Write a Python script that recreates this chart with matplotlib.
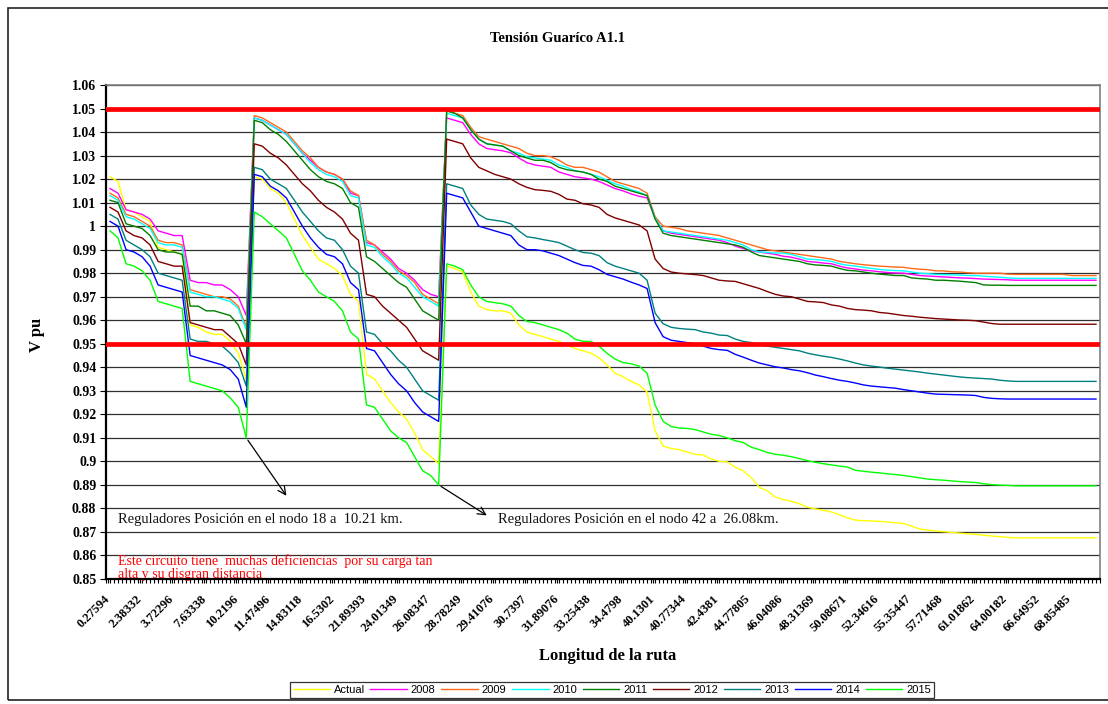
import matplotlib
matplotlib.use("Agg")
import matplotlib.pyplot as plt
import numpy as np
from matplotlib.patches import Rectangle

plt.rcParams['font.family'] = ['Liberation Serif', 'DejaVu Serif']

# distance labels shown every 8 categories on the x axis
x_labels = ["0.27594", "2.38332", "3.72296", "7.63338", "10.2196", "11.47496",
            "14.83118", "16.5302", "21.89393", "24.01349", "26.08347", "28.78249",
            "29.41076", "30.7397", "31.89076", "33.25438", "34.4798", "40.1301",
            "40.77344", "42.4381", "44.77805", "46.04086", "48.31369", "50.08671",
            "52.34616", "55.35447", "57.71468", "61.01862", "64.00182", "66.64952",
            "68.85485"]

# voltage (pu) per node, 124 nodes
actual = [1.021, 1.019, 1.007, 1.006, 1.004, 1.002, 0.991, 0.990, 0.989, 0.988,
          0.958, 0.957, 0.955, 0.954, 0.954, 0.951, 0.946, 0.935,
          1.021, 1.020, 1.016, 1.014, 1.010, 1.003, 0.996, 0.991, 0.986, 0.984,
          0.982, 0.979, 0.971, 0.968, 0.937, 0.935, 0.930, 0.925, 0.921, 0.918,
          0.912, 0.905, 0.902, 0.899,
          0.983, 0.982, 0.9805, 0.972, 0.966, 0.9645, 0.964, 0.964, 0.963, 0.958,
          0.955, 0.954, 0.953, 0.952, 0.951, 0.9495, 0.948, 0.947, 0.946, 0.944,
          0.941, 0.9375, 0.936, 0.934, 0.9325, 0.9295, 0.913, 0.9065, 0.9055, 0.905,
          0.904, 0.903, 0.9027, 0.901, 0.900, 0.8998, 0.8975, 0.896, 0.893, 0.889,
          0.8875, 0.8848, 0.8838, 0.883, 0.882, 0.8805, 0.8798, 0.8792, 0.8785, 0.8773,
          0.876, 0.875, 0.8748, 0.8747, 0.8745, 0.8742, 0.8739, 0.8736, 0.8725, 0.8712,
          0.8708, 0.8704, 0.8701, 0.8698, 0.8695, 0.8692, 0.869, 0.8686, 0.8683, 0.868,
          0.8677] + [0.8675] * 11

y2008 = [1.016, 1.014, 1.007, 1.006, 1.005, 1.003, 0.998, 0.997, 0.996, 0.996,
         0.977, 0.976, 0.976, 0.975, 0.975, 0.973, 0.970, 0.962,
         1.046, 1.045, 1.043, 1.041, 1.039, 1.035, 1.031, 1.028, 1.025, 1.023,
         1.022, 1.020, 1.014, 1.013, 0.993, 0.992, 0.989, 0.986, 0.982, 0.980,
         0.977, 0.973, 0.971, 0.970,
         1.046, 1.045, 1.044, 1.039, 1.035, 1.033, 1.0325, 1.032, 1.0312, 1.029,
         1.027, 1.026, 1.0255, 1.025, 1.023, 1.022, 1.021, 1.0205, 1.020, 1.019,
         1.0175, 1.016, 1.015, 1.0137, 1.0127, 1.012, 1.0035, 0.998, 0.997, 0.9965,
         0.996, 0.9955, 0.995, 0.9945, 0.994, 0.993, 0.9915, 0.9905, 0.9895, 0.989,
         0.9885, 0.988, 0.9872, 0.9868, 0.986, 0.985, 0.9847, 0.9843, 0.984, 0.983,
         0.9822, 0.9818, 0.9813, 0.981, 0.9806, 0.9803, 0.9801, 0.980, 0.9795, 0.979,
         0.9788, 0.9786, 0.9784, 0.9782, 0.978, 0.9779, 0.9777, 0.9775, 0.9774, 0.9773,
         0.9772] + [0.977] * 11

y2009 = [1.014, 1.012, 1.005, 1.004, 1.002, 1.000, 0.994, 0.993, 0.993, 0.992,
         0.973, 0.972, 0.971, 0.970, 0.970, 0.969, 0.966, 0.957,
         1.047, 1.046, 1.044, 1.042, 1.040, 1.036, 1.032, 1.029, 1.025, 1.023,
         1.022, 1.020, 1.015, 1.013, 0.994, 0.992, 0.988, 0.985, 0.981, 0.979,
         0.976, 0.971, 0.969, 0.967,
         1.049, 1.048, 1.047, 1.042, 1.038, 1.037, 1.036, 1.035, 1.034, 1.033,
         1.031, 1.030, 1.030, 1.0295, 1.028, 1.026, 1.025, 1.025, 1.024, 1.023,
         1.021, 1.019, 1.018, 1.017, 1.016, 1.014, 1.004, 1.000, 0.9995, 0.999,
         0.998, 0.9975, 0.997, 0.9965, 0.996, 0.995, 0.994, 0.993, 0.992, 0.991,
         0.990, 0.9895, 0.989, 0.9885, 0.988, 0.9875, 0.987, 0.9865, 0.986, 0.985,
         0.9845, 0.984, 0.9836, 0.9833, 0.983, 0.9828, 0.9826, 0.9825, 0.982, 0.9817,
         0.9815, 0.981, 0.981, 0.9806, 0.9805, 0.9802, 0.980, 0.980, 0.980, 0.980,
         0.9796] + [0.9795] * 7 + [0.979] * 4

y2010 = [1.013, 1.011, 1.004, 1.003, 1.001, 0.999, 0.993, 0.992, 0.992, 0.991,
         0.972, 0.971, 0.970, 0.970, 0.969, 0.968, 0.965, 0.956,
         1.046, 1.045, 1.043, 1.041, 1.039, 1.035, 1.031, 1.027, 1.024, 1.022,
         1.021, 1.019, 1.013, 1.012, 0.992, 0.991, 0.987, 0.984, 0.980, 0.978,
         0.974, 0.970, 0.968, 0.966,
         1.048, 1.047, 1.046, 1.041, 1.037, 1.035, 1.0345, 1.034, 1.032, 1.031,
         1.0295, 1.029, 1.0285, 1.028, 1.026, 1.025, 1.0235, 1.023, 1.022, 1.021,
         1.0195, 1.018, 1.017, 1.0155, 1.0145, 1.013, 1.0035, 0.998, 0.9975, 0.997,
         0.9965, 0.996, 0.9955, 0.995, 0.9945, 0.994, 0.993, 0.992, 0.990, 0.989,
         0.9888, 0.9886, 0.9885, 0.988, 0.987, 0.986, 0.9858, 0.9855, 0.985, 0.984,
         0.9834, 0.983, 0.9825, 0.982, 0.9816, 0.9813, 0.9811, 0.981, 0.9805, 0.980,
         0.9798, 0.9795, 0.9794, 0.9793, 0.9792, 0.979, 0.979, 0.9787, 0.9785, 0.9783,
         0.978] + [0.9778] * 11

y2011 = [1.011, 1.010, 1.001, 1.000, 0.999, 0.996, 0.990, 0.989, 0.989, 0.988,
         0.966, 0.966, 0.964, 0.964, 0.963, 0.962, 0.958, 0.950,
         1.045, 1.044, 1.041, 1.039, 1.036, 1.032, 1.028, 1.024, 1.021, 1.019,
         1.018, 1.016, 1.010, 1.008, 0.987, 0.985, 0.982, 0.979, 0.976, 0.974,
         0.969, 0.964, 0.962, 0.960,
         1.049, 1.048, 1.046, 1.041, 1.037, 1.035, 1.0345, 1.034, 1.032, 1.030,
         1.029, 1.028, 1.028, 1.027, 1.025, 1.024, 1.0235, 1.023, 1.022, 1.020,
         1.019, 1.017, 1.016, 1.015, 1.014, 1.013, 1.003, 0.997, 0.996, 0.9955,
         0.995, 0.9945, 0.994, 0.9935, 0.993, 0.9925, 0.992, 0.991, 0.989, 0.9875,
         0.987, 0.9865, 0.986, 0.9855, 0.985, 0.984, 0.9835, 0.9833, 0.983, 0.982,
         0.9812, 0.981, 0.9805, 0.980, 0.9796, 0.9793, 0.979, 0.979, 0.978, 0.9777,
         0.9775, 0.977, 0.977, 0.9768, 0.9766, 0.9763, 0.976, 0.975, 0.9749, 0.9749,
         ] + [0.9748] * 12

y2012 = [1.008, 1.006, 0.998, 0.996, 0.995, 0.992, 0.985, 0.984, 0.983, 0.983,
         0.959, 0.958, 0.957, 0.956, 0.956, 0.953, 0.950, 0.941,
         1.035, 1.034, 1.031, 1.029, 1.026, 1.022, 1.018, 1.015, 1.011, 1.008,
         1.006, 1.003, 0.997, 0.994, 0.971, 0.970, 0.966, 0.963, 0.960, 0.957,
         0.952, 0.947, 0.945, 0.943,
         1.037, 1.036, 1.035, 1.029, 1.025, 1.0235, 1.022, 1.021, 1.020, 1.018,
         1.0165, 1.0155, 1.0152, 1.0148, 1.0135, 1.0115, 1.011, 1.0095, 1.009, 1.008,
         1.005, 1.0035, 1.0025, 1.0015, 1.0005, 0.998, 0.986, 0.982, 0.9805, 0.980,
         0.9797, 0.9794, 0.979, 0.978, 0.977, 0.9767, 0.9765, 0.9755, 0.9745, 0.9735,
         0.9722, 0.971, 0.9703, 0.970, 0.969, 0.968, 0.9678, 0.9675, 0.9665, 0.966,
         0.965, 0.9645, 0.9643, 0.964, 0.9633, 0.963, 0.9625, 0.962, 0.9617, 0.9613,
         0.961, 0.9607, 0.9605, 0.9603, 0.9601, 0.960, 0.9598, 0.9592, 0.9586, 0.9583,
         ] + [0.9583] * 12

y2013 = [1.005, 1.003, 0.994, 0.992, 0.990, 0.987, 0.980, 0.979, 0.978, 0.977,
         0.952, 0.951, 0.951, 0.950, 0.949, 0.946, 0.942, 0.932,
         1.025, 1.024, 1.020, 1.018, 1.016, 1.011, 1.006, 1.002, 0.998, 0.995,
         0.994, 0.990, 0.983, 0.980, 0.955, 0.954, 0.950, 0.947, 0.943, 0.940,
         0.935, 0.930, 0.928, 0.926,
         1.018, 1.017, 1.016, 1.009, 1.005, 1.003, 1.0025, 1.002, 1.001, 0.998,
         0.9955, 0.995, 0.9943, 0.9937, 0.993, 0.9915, 0.990, 0.9888, 0.9885, 0.9875,
         0.9845, 0.983, 0.982, 0.981, 0.980, 0.977, 0.963, 0.9585, 0.957, 0.9565,
         0.9562, 0.956, 0.955, 0.9545, 0.9537, 0.9535, 0.952, 0.951, 0.9505, 0.9497,
         0.949, 0.9485, 0.948, 0.9475, 0.947, 0.946, 0.9453, 0.9447, 0.9442, 0.9435,
         0.9427, 0.9418, 0.941, 0.9405, 0.9401, 0.9396, 0.9392, 0.9388, 0.9384, 0.938,
         0.9375, 0.9371, 0.9367, 0.9363, 0.9359, 0.9356, 0.9354, 0.9352, 0.935, 0.9345,
         0.9342] + [0.934] * 11

y2014 = [1.002, 1.000, 0.990, 0.989, 0.987, 0.983, 0.975, 0.974, 0.973, 0.972,
         0.945, 0.944, 0.943, 0.942, 0.941, 0.939, 0.935, 0.923,
         1.022, 1.021, 1.017, 1.015, 1.012, 1.006, 1.000, 0.995, 0.991, 0.988,
         0.987, 0.984, 0.976, 0.973, 0.948, 0.947, 0.942, 0.937, 0.933, 0.930,
         0.925, 0.921, 0.919, 0.917,
         1.014, 1.013, 1.012, 1.006, 1.000, 0.999, 0.998, 0.997, 0.996, 0.992,
         0.990, 0.990, 0.9895, 0.9885, 0.9875, 0.986, 0.9845, 0.9833, 0.983, 0.9815,
         0.9795, 0.9785, 0.9775, 0.9762, 0.975, 0.9735, 0.959, 0.953, 0.9515, 0.951,
         0.9505, 0.950, 0.949, 0.948, 0.9475, 0.9472, 0.9455, 0.9443, 0.943, 0.9418,
         0.941, 0.9402, 0.9397, 0.939, 0.9385, 0.9377, 0.9367, 0.936, 0.9352, 0.9345,
         0.934, 0.9333, 0.9325, 0.932, 0.9317, 0.9314, 0.9311, 0.9305, 0.930, 0.9295,
         0.929, 0.9286, 0.9285, 0.9284, 0.9283, 0.9282, 0.928, 0.9272, 0.9268, 0.9266,
         ] + [0.9265] * 12

y2015 = [0.998, 0.995, 0.984, 0.983, 0.981, 0.977, 0.968, 0.967, 0.966, 0.965,
         0.934, 0.933, 0.932, 0.931, 0.930, 0.927, 0.923, 0.910,
         1.006, 1.004, 1.001, 0.998, 0.995, 0.988, 0.981, 0.977, 0.972, 0.970,
         0.968, 0.964, 0.955, 0.952, 0.924, 0.923, 0.918, 0.913, 0.910, 0.908,
         0.902, 0.896, 0.894, 0.890,
         0.984, 0.983, 0.9815, 0.975, 0.970, 0.968, 0.9675, 0.967, 0.966, 0.962,
         0.9595, 0.959, 0.958, 0.957, 0.956, 0.9545, 0.952, 0.951, 0.951, 0.949,
         0.946, 0.9435, 0.942, 0.9415, 0.9405, 0.9375, 0.924, 0.917, 0.9148, 0.9142,
         0.914, 0.9135, 0.9125, 0.9115, 0.911, 0.910, 0.9088, 0.908, 0.906, 0.905,
         0.9038, 0.903, 0.9026, 0.902, 0.9012, 0.9003, 0.8996, 0.899, 0.8985, 0.898,
         0.8976, 0.8962, 0.8958, 0.8954, 0.8951, 0.8947, 0.8944, 0.894, 0.8935, 0.893,
         0.8925, 0.8922, 0.892, 0.8917, 0.8914, 0.8912, 0.891, 0.8905, 0.8901, 0.8899,
         0.8898] + [0.8896] * 11

names = ["Actual", "2008", "2009", "2010", "2011", "2012", "2013", "2014", "2015"]
values = [actual, y2008, y2009, y2010, y2011, y2012, y2013, y2014, y2015]
colors = ["#FFFF00", "#FF00FF", "#FF6A1A", "#00FFFF", "#008000", "#800000",
          "#008080", "#0000FF", "#00FF00"]

limits = [1.05, 0.95]

n_cat = len(x_labels) * 8          # each node takes two categories
node_x = np.arange(len(actual)) * 2 + 0.5

fig = plt.figure(figsize=(11.08, 7.04), dpi=100)
fig.patches.append(Rectangle((8 / 1108, 4 / 704), 1.2, 692 / 704, transform=fig.transFigure,
                             fill=False, edgecolor="#222222", lw=1.2))

ax = fig.add_axes([106 / 1108, 125 / 704, 994 / 1108, 494 / 704])

handles = []
for name, vals, c in zip(names, values, colors):
    h, = ax.plot(node_x, vals, color=c, lw=1.0, label=name, zorder=3)
    handles.append(h)

for v in limits:
    ax.axhline(v, color="#FF0000", lw=3.4, zorder=4)

ax.set_xlim(-0.5, n_cat - 0.5)
ax.set_ylim(0.85, 1.06)

yt = np.round(np.arange(0.85, 1.0601, 0.01), 2)
ax.set_yticks(yt, labels=[f"{v:g}" for v in yt], fontsize=10, fontweight="bold")
ax.yaxis.grid(True, color="#303030", lw=0.9)
ax.set_axisbelow(True)

ax.set_xticks(np.arange(0, n_cat, 8), labels=x_labels, fontsize=9, fontweight="bold",
              rotation=45, ha="right", va="center", rotation_mode="anchor")
ax.set_xticks(np.arange(-0.5, n_cat, 1), minor=True)
ax.tick_params(axis="x", which="both", direction="out", length=3, width=0.8, pad=10)
ax.tick_params(axis="y", direction="out", length=4, width=0.8, pad=3)

for s in ["top", "right"]:
    ax.spines[s].set_color("#808080")
    ax.spines[s].set_linewidth(1.2)
for s in ["left", "bottom"]:
    ax.spines[s].set_color("black")
    ax.spines[s].set_linewidth(1.6)

fig.text(558 / 1108, 1 - 38 / 704, "Tensión Guaríco A1.1", ha="center", va="center",
         fontsize=10.5, fontweight="bold")
fig.text(608 / 1108, 1 - 656 / 704, "Longitud de la ruta", ha="center", va="center",
         fontsize=12, fontweight="bold")
fig.text(37 / 1108, 1 - 335 / 704, "V pu", ha="center", va="center", rotation=90,
         fontsize=12, fontweight="bold")

# regulator annotations
ax.annotate("", xy=(44.9, 0.8844), xytext=(node_x[17], y2015[17]),
            arrowprops=dict(arrowstyle="->", color="black", lw=0.9, mutation_scale=14))
ax.annotate("", xy=(95.1, 0.8764), xytext=(node_x[41], y2015[41]),
            arrowprops=dict(arrowstyle="->", color="black", lw=0.9, mutation_scale=14))
ax.text(2.5, 0.8755, "Reguladores Posición en el nodo 18 a  10.21 km.", fontsize=10.5,
        va="center", ha="left", color="#111111")
ax.text(97.3, 0.8752, "Reguladores Posición en el nodo 42 a  26.08km.", fontsize=10.5,
        va="center", ha="left", color="#111111")
ax.text(2.5, 0.8548, "Este circuito tiene  muchas deficiencias  por su carga tan\n"
        "alta y su disgran distancia", fontsize=10, color="#FF0000", va="center",
        ha="left", linespacing=1.05, zorder=2, clip_on=False)

fig.legend(handles, names, loc="center", bbox_to_anchor=(612 / 1108, 1 - 690 / 704),
           ncol=9, prop={"family": "Liberation Sans", "size": 8}, frameon=True,
           fancybox=False, edgecolor="#333333", framealpha=1, handlelength=3.3,
           handletextpad=0.35, columnspacing=0.5, borderpad=0.3, borderaxespad=0)
fig.legends[0].get_frame().set_linewidth(0.9)

fig.savefig("out.png", dpi=100)
